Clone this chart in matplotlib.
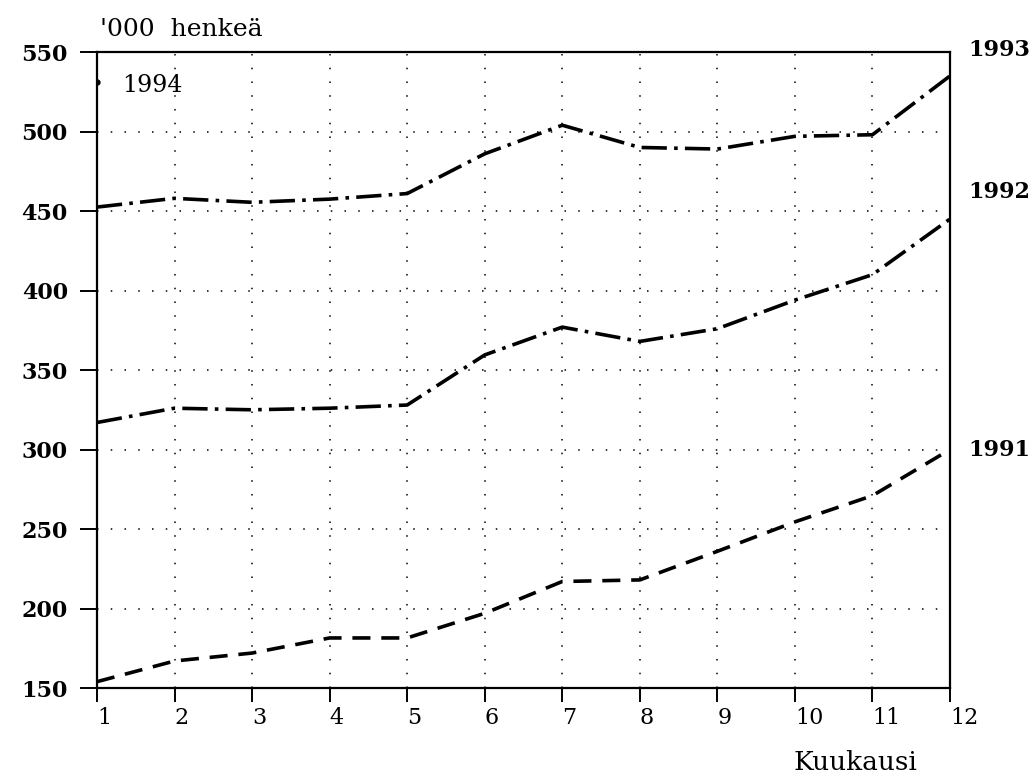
import matplotlib.pyplot as plt

months = list(range(1, 13))
v1991 = [154, 167, 172, 181.5, 181.5, 197, 217, 218, 236, 254.5, 271, 300]
v1992 = [317, 326, 325, 326, 328, 359.5, 377, 368, 376, 394, 410, 445]
v1993 = [452.5, 458, 455.5, 457.5, 461, 486, 504, 490, 489, 497, 498, 535]
v1994 = [531]

yticks = [150, 200, 250, 300, 350, 400, 450, 500, 550]

plt.rcParams['font.family'] = ['DejaVu Serif']

fig = plt.figure(figsize=(10.36, 7.77), dpi=100)
ax = fig.add_axes([0.0936, 0.1145, 0.8234, 0.8185])

ax.plot(months, v1991, color='black', lw=2.6, linestyle=(0, (5, 3)))
ax.plot(months, v1992, color='black', lw=2.6, linestyle=(0, (7, 2, 1, 2)))
ax.plot(months, v1993, color='black', lw=2.6, linestyle=(0, (7, 2, 1, 2)))
ax.plot(months[:1], v1994, color='black', marker='.', markersize=7, lw=0)

ax.set_xlim(1, 12)
ax.set_ylim(150, 550)
ax.set_xticks(months)
ax.set_yticks(yticks)
ax.grid(True, linestyle=(0, (1, 8)), color='black', lw=1.1)
for s in ax.spines.values():
    s.set_linewidth(1.6)
ax.tick_params(axis='x', labelsize=16, length=10, width=1.4, direction='out', pad=4)
ax.tick_params(axis='y', labelsize=16, length=12, width=1.4, direction='out', pad=9)
for lab in ax.get_xticklabels():
    lab.set_horizontalalignment('left')
for lab in ax.get_yticklabels():
    lab.set_fontweight('bold')

ax.text(1.32, 529, '1994', fontsize=17, va='center')
yt = ax.get_yaxis_transform()
ax.text(1.021, 551, '1993', transform=yt, fontsize=16, fontweight='bold', va='center')
ax.text(1.021, 462, '1992', transform=yt, fontsize=16, fontweight='bold', va='center')
ax.text(1.021, 300, '1991', transform=yt, fontsize=16, fontweight='bold', va='center')

fig.text(0.097, 0.962, "'000  henkeä", fontsize=18, va='center')
fig.text(0.826, 0.019, 'Kuukausi', fontsize=19, va='center', ha='center')

plt.savefig('out.png')
